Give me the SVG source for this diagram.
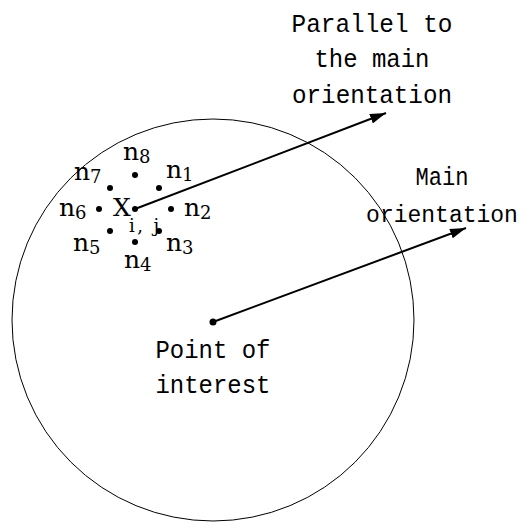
<svg xmlns="http://www.w3.org/2000/svg" width="529" height="530" viewBox="0 0 529 530">
<style>
text{font-family:"Liberation Mono","DejaVu Sans Mono",monospace;fill:#000;}
.t{font-size:25px;text-anchor:middle;}
.n{font-size:25px;font-family:"DejaVu Serif","Liberation Serif",serif;}
.s{font-size:18px;font-family:"DejaVu Serif","Liberation Serif",serif;}
.dot{fill:#000;}
</style>
<defs>
<marker id="ah" viewBox="0 0 16 10" refX="16" refY="5" markerWidth="16" markerHeight="10" markerUnits="userSpaceOnUse" orient="auto">
<path d="M0,0 L16,5 L0,10 Z" fill="#000"/>
</marker>
</defs>
<rect width="529" height="530" fill="#fff"/>
<g id="region"><circle cx="213" cy="320" r="201" fill="none" stroke="#000" stroke-width="1"/></g>
<g id="connectors" stroke="#000" stroke-width="2" fill="none">
<line x1="213" y1="322" x2="466" y2="228" marker-end="url(#ah)"/>
<line x1="135" y1="209" x2="386" y2="113" marker-end="url(#ah)"/>
</g>
<g id="point-of-interest">
<circle class="dot" cx="213" cy="322" r="3.5"/>
<text class="t" x="213" y="358" textLength="115" lengthAdjust="spacingAndGlyphs">Point of</text>
<text class="t" x="213" y="393" textLength="115" lengthAdjust="spacingAndGlyphs">interest</text>
</g>
<g id="main-orientation">
<text class="t" x="442" y="185" textLength="53" lengthAdjust="spacingAndGlyphs">Main</text>
<text class="t" x="442" y="222" style="font-size:23px">orientation</text>
</g>
<g id="parallel-label">
<text class="t" x="372" y="32" textLength="161" lengthAdjust="spacingAndGlyphs">Parallel to</text>
<text class="t" x="372" y="67" textLength="115" lengthAdjust="spacingAndGlyphs">the main</text>
<text class="t" x="372" y="103" textLength="160" lengthAdjust="spacingAndGlyphs">orientation</text>
</g>
<g id="neighbourhood">
<circle class="dot" cx="135" cy="209" r="3"/>
<circle class="dot" cx="135" cy="175" r="3"/>
<circle class="dot" cx="159" cy="188" r="3"/>
<circle class="dot" cx="171" cy="209" r="3"/>
<circle class="dot" cx="159" cy="231" r="3"/>
<circle class="dot" cx="135" cy="242" r="3"/>
<circle class="dot" cx="110" cy="231" r="3"/>
<circle class="dot" cx="99" cy="209" r="3"/>
<circle class="dot" cx="110" cy="188" r="3"/>
<text class="n" x="113" y="216">X</text><text class="s" x="129" y="232" textLength="30" lengthAdjust="spacing">i, j</text>
<text class="n" x="123" y="160">n</text><text class="s" x="139" y="163">8</text>
<text class="n" x="166" y="178">n</text><text class="s" x="182" y="181">1</text>
<text class="n" x="184" y="216">n</text><text class="s" x="200" y="219">2</text>
<text class="n" x="166" y="251">n</text><text class="s" x="182" y="254">3</text>
<text class="n" x="124" y="268">n</text><text class="s" x="140" y="271">4</text>
<text class="n" x="73" y="251">n</text><text class="s" x="89" y="254">5</text>
<text class="n" x="59" y="216">n</text><text class="s" x="75" y="219">6</text>
<text class="n" x="74" y="180">n</text><text class="s" x="90" y="183">7</text>
</g>
</svg>
